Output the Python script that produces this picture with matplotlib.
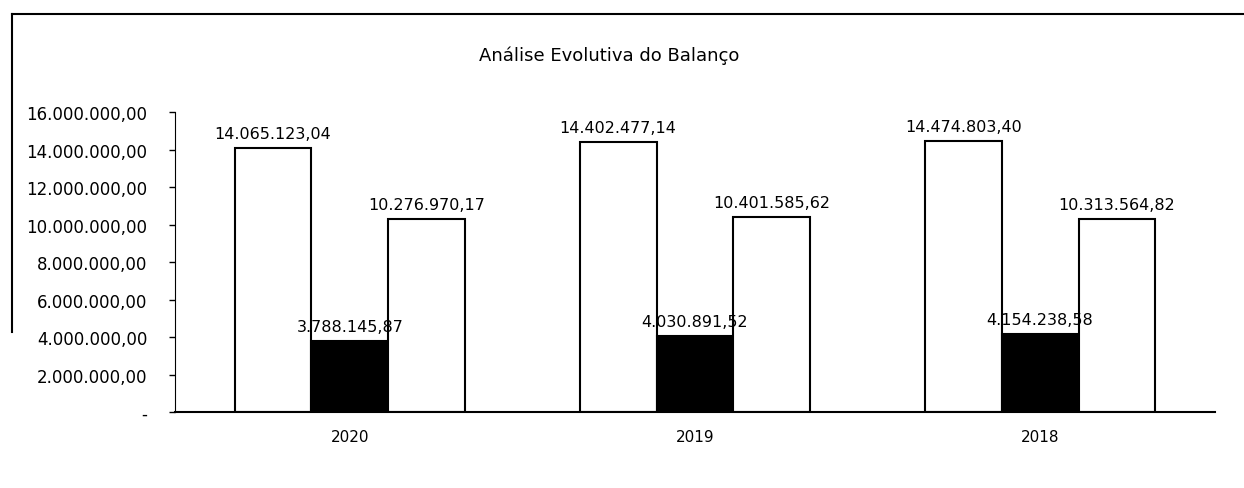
import matplotlib.pyplot as plt
from matplotlib.ticker import FuncFormatter
from matplotlib.lines import Line2D
import numpy as np

plt.rcParams['font.family'] = ['DejaVu Sans']

anos = ["2020", "2019", "2018"]
ativo = [14065123.04, 14402477.14, 14474803.40]
capital_proprio = [3788145.87, 4030891.52, 4154238.58]
passivo = [10276970.17, 10401585.62, 10313564.82]


def fmt_pt(v):
    s = f"{v:,.2f}"
    return s.replace(",", "X").replace(".", ",").replace("X", ".")


def tick_fmt(v, pos):
    if abs(v) < 1e-6:
        return "-"
    return fmt_pt(v)


fig = plt.figure(figsize=(12.44, 4.89), dpi=100)
ax = fig.add_axes([0.1407, 0.1554, 0.836, 0.6135])

x = np.arange(len(anos))
w = 0.223

b1 = ax.bar(x - w, ativo, w, color="white", edgecolor="black", linewidth=1.5)
b2 = ax.bar(x, capital_proprio, w, color="black", edgecolor="black", linewidth=1.5)
b3 = ax.bar(x + w, passivo, w, color="white", edgecolor="black", linewidth=1.5)

for bars, vals in [(b1, ativo), (b2, capital_proprio), (b3, passivo)]:
    ax.bar_label(bars, labels=[fmt_pt(v) for v in vals], padding=5, fontsize=11.5)

ax.set_xlim(-0.507, 2.507)
ax.set_ylim(0, 16000000)
ax.set_yticks(np.arange(0, 16000001, 2000000))
ax.yaxis.set_major_formatter(FuncFormatter(tick_fmt))
ax.set_xticks(x)
ax.set_xticklabels(anos)

ax.tick_params(axis="y", length=4, width=1, pad=16, labelsize=12)
ax.tick_params(axis="x", length=0, pad=12, labelsize=11)

for s in ["top", "right"]:
    ax.spines[s].set_visible(False)
ax.spines["left"].set_linewidth(0.8)
ax.spines["bottom"].set_linewidth(1.5)

fig.text(0.49, 0.885, "Análise Evolutiva do Balanço", ha="center", va="center", fontsize=13)

# moldura do gráfico
fig.add_artist(Line2D([0.0096, 1.0], [0.969, 0.969], color="black", linewidth=1.5))
fig.add_artist(Line2D([0.0096, 0.0096], [0.969, 0.32], color="black", linewidth=1.5))

fig.savefig("out.png", dpi=100)
